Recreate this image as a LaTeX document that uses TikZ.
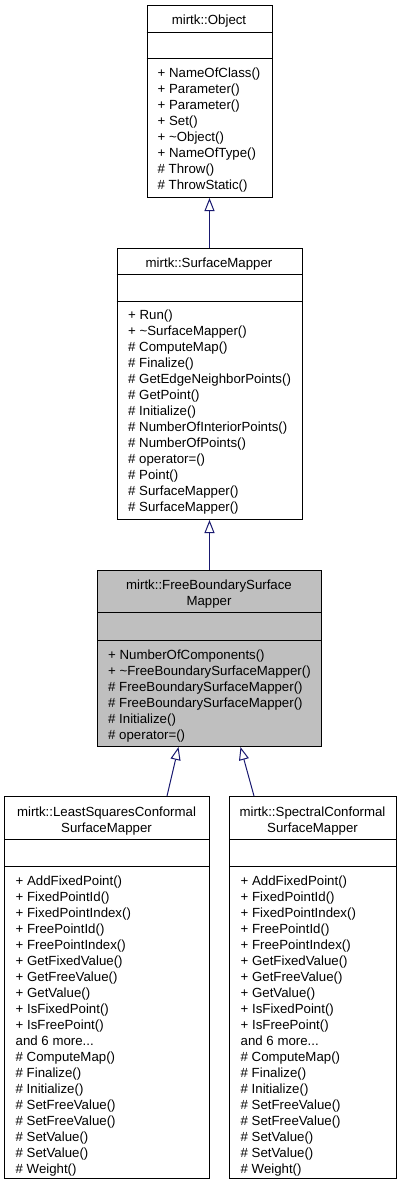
\documentclass[tikz,border=0pt]{standalone}
\usepackage{fontspec}
\setmainfont{Liberation Sans}
\usetikzlibrary{arrows.meta}
\definecolor{edgeblue}{HTML}{191970}
\definecolor{focusgray}{HTML}{BFBFBF}
\newcommand\andmore{and 6 more...}
\begin{document}
\begin{tikzpicture}[x=1pt,y=-1pt,
  classbox/.style={draw=black, line width=1pt, rectangle, inner sep=0pt, anchor=north west},
  member/.style={anchor=base west, inner sep=0pt, font=\fontsize{13.25}{16}\selectfont},
  title/.style={anchor=base, inner sep=0pt, font=\fontsize{13.25}{16}\selectfont},
  divider/.style={draw=black, line width=1pt},
  inherit/.style={draw=edgeblue, line width=1pt,
    -{Triangle[open, length=13pt, width=10pt, fill=white]}}]
\useasboundingbox (0,0) rectangle (404,1189);

% mirtk::Object
\node[classbox, minimum width=125pt, minimum height=192pt] (obj) at (146.5,5) {};
\node[title] (obj-t) at (209,24.5) {mirtk::Object};
\draw[divider] (obj.west |- 0,32) -- (obj.east |- 0,32);
\draw[divider] (obj.west |- 0,58) -- (obj.east |- 0,58);
\foreach \m [count=\i from 0] in {+ NameOfClass(), + Parameter(), + Parameter(), + Set(),
    + \textasciitilde Object(), + NameOfType(), \# Throw(), \# ThrowStatic()}
  \node[member] (obj-\i) at (157.5,77.2+16*\i) {\m};

% mirtk::SurfaceMapper
\node[classbox, minimum width=185pt, minimum height=271.5pt] (sm) at (116.5,247.5) {};
\node[title] (sm-t) at (209,267.2) {mirtk::SurfaceMapper};
\draw[divider] (sm.west |- 0,274.3) -- (sm.east |- 0,274.3);
\draw[divider] (sm.west |- 0,301) -- (sm.east |- 0,301);
\foreach \m [count=\i from 0] in {+ Run(), + \textasciitilde SurfaceMapper(), \# ComputeMap(),
    \# Finalize(), \# GetEdgeNeighborPoints(), \# GetPoint(), \# Initialize(),
    \# NumberOfInteriorPoints(), \# NumberOfPoints(), \# operator=(), \# Point(),
    \# SurfaceMapper(), \# SurfaceMapper()}
  \node[member] (sm-\i) at (128,319.5+16*\i) {\m};

% mirtk::FreeBoundarySurfaceMapper
\node[classbox, fill=focusgray, minimum width=224pt, minimum height=176pt] (fbs) at (97,570) {};
\node[title] (fbs-t1) at (209,589.5) {mirtk::FreeBoundarySurface};
\node[title] (fbs-t2) at (209,605.5) {Mapper};
\draw[divider] (fbs.west |- 0,612) -- (fbs.east |- 0,612);
\draw[divider] (fbs.west |- 0,640) -- (fbs.east |- 0,640);
\foreach \m [count=\i from 0] in {+ NumberOfComponents(), + \textasciitilde FreeBoundarySurfaceMapper(),
    \# FreeBoundarySurfaceMapper(), \# FreeBoundarySurfaceMapper(), \# Initialize(), \# operator=()}
  \node[member] (fbs-\i) at (108,659.5+16*\i) {\m};

% mirtk::LeastSquaresConformalSurfaceMapper
\node[classbox, minimum width=205pt, minimum height=381.5pt] (lsq) at (4,796) {};
\node[title] (lsq-t1) at (106.5,816.5) {mirtk::LeastSquaresConformal};
\node[title] (lsq-t2) at (106.5,832.5) {SurfaceMapper};
\draw[divider] (lsq.west |- 0,839) -- (lsq.east |- 0,839);
\draw[divider] (lsq.west |- 0,866) -- (lsq.east |- 0,866);
\foreach \m [count=\i from 0] in {+ AddFixedPoint(), + FixedPointId(), + FixedPointIndex(),
    + FreePointId(), + FreePointIndex(), + GetFixedValue(), + GetFreeValue(), + GetValue(),
    + IsFixedPoint(), + IsFreePoint(), \andmore, \# ComputeMap(), \# Finalize(), \# Initialize(),
    \# SetFreeValue(), \# SetFreeValue(), \# SetValue(), \# SetValue(), \# Weight()}
  \node[member] (lsq-\i) at (15.5,885+16*\i) {\m};

% mirtk::SpectralConformalSurfaceMapper
\node[classbox, minimum width=167pt, minimum height=381.5pt] (spc) at (229,796) {};
\node[title] (spc-t1) at (312.5,816.5) {mirtk::SpectralConformal};
\node[title] (spc-t2) at (312.5,832.5) {SurfaceMapper};
\draw[divider] (spc.west |- 0,839) -- (spc.east |- 0,839);
\draw[divider] (spc.west |- 0,866) -- (spc.east |- 0,866);
\foreach \m [count=\i from 0] in {+ AddFixedPoint(), + FixedPointId(), + FixedPointIndex(),
    + FreePointId(), + FreePointIndex(), + GetFixedValue(), + GetFreeValue(), + GetValue(),
    + IsFixedPoint(), + IsFreePoint(), \andmore, \# ComputeMap(), \# Finalize(), \# Initialize(),
    \# SetFreeValue(), \# SetFreeValue(), \# SetValue(), \# SetValue(), \# Weight()}
  \node[member] (spc-\i) at (240.5,885+16*\i) {\m};

% inheritance edges
\draw[inherit] (sm.north) -- (obj.south);
\draw[inherit] (fbs.north) -- (sm.south);
\draw[inherit] ([xshift=60pt]lsq.north) -- ([xshift=-31pt]fbs.south);
\draw[inherit] ([xshift=-59pt]spc.north) -- ([xshift=31pt]fbs.south);
\end{tikzpicture}
\end{document}
